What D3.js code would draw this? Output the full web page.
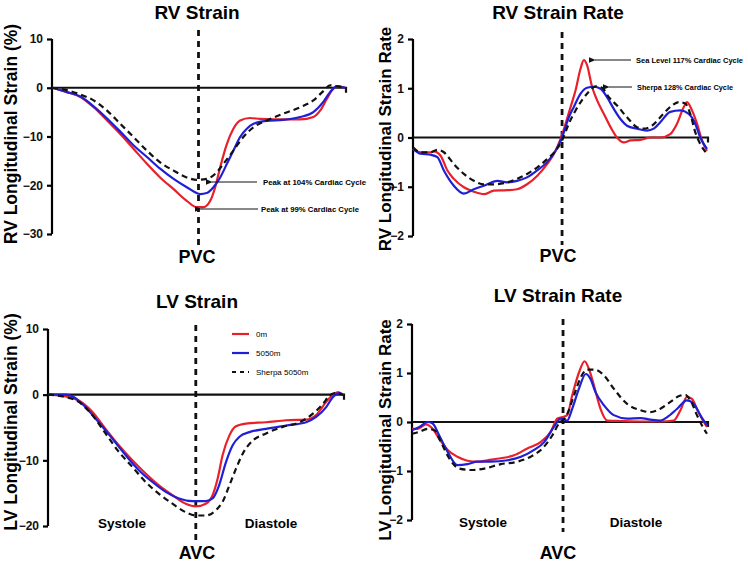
<!DOCTYPE html>
<html><head><meta charset="utf-8">
<script src="https://cdn.jsdelivr.net/npm/d3@7"></script>
<style>
html,body{margin:0;padding:0;background:#fff;}
svg{display:block;font-family:"Liberation Sans",Arial,sans-serif;}
</style></head>
<body><svg id="c" width="748" height="564"></svg>
<script>
// ---------- DATA ([cardiac cycle %, value]) ----------
const seriesNames = ["0m", "5050m", "Sherpa 5050m"];

const rvStrain0m = [[0,0],[5.1,-0.9],[9.7,-1.9],[14.2,-4],[18.8,-6.7],[23.3,-9.5],[27.8,-12.5],[32.4,-15.6],[36.9,-18.4],[41.5,-20.8],[46,-23.2],[49.4,-24.5],[51.7,-24.5],[54,-23.2],[55.7,-20.4],[57.4,-16.3],[59.7,-11.5],[61.9,-8.4],[64.2,-6.7],[67.6,-6.2],[71,-6.4],[75.6,-6.5],[80.1,-6.5],[84.7,-6.5],[89.2,-6.0],[91.5,-4.7],[93.8,-2.3],[96,-0.2],[97.7,0.3],[100,0]];
const rvStrain5050 = [[0,0],[5.1,-0.9],[9.7,-1.8],[14.2,-3.8],[18.8,-6.3],[23.3,-9.0],[27.8,-11.8],[32.4,-14.2],[36.9,-16.6],[41.5,-18.7],[46,-20.4],[50.6,-21.8],[52.8,-21.6],[55.1,-20.4],[57.4,-18.4],[59.7,-15.6],[61.9,-12.9],[64.2,-10.1],[66.5,-8.4],[68.8,-7.4],[73.3,-6.8],[79,-6.6],[84.7,-6.0],[89.2,-5.0],[92.6,-2.9],[94.9,-0.9],[97.2,0.3],[100,0]];
const rvStrainSherpa = [[0,0],[5.1,-0.5],[9.7,-1.4],[14.2,-2.6],[18.8,-4.7],[23.3,-7.4],[27.8,-10.1],[32.4,-12.9],[36.9,-15.3],[41.5,-17.0],[46,-18.4],[49.4,-18.9],[52.8,-18.7],[56.3,-17.3],[58.5,-15.6],[61.9,-12.9],[65.3,-10.1],[68.8,-8.1],[73.3,-6.7],[79,-5.3],[84.7,-4.0],[89.2,-2.6],[92.6,-0.7],[94.9,0.5],[97.2,0.3],[100,0]];

const rvRate0m = [[0,-0.23],[2.6,-0.3],[6,-0.3],[7.1,-0.28],[9.4,-0.37],[11.7,-0.67],[13.9,-0.84],[17.3,-1.01],[20.7,-1.1],[24.1,-1.15],[27.5,-1.08],[32,-1.07],[35.4,-1.05],[38.8,-0.95],[42.2,-0.78],[45.6,-0.54],[48.5,-0.27],[50.2,-0.03],[51.9,0.28],[53.6,0.62],[55.3,0.96],[57,1.4],[58.1,1.57],[59.2,1.47],[60.9,1.03],[62.6,0.76],[64.9,0.48],[67.2,0.21],[69.4,0],[71.7,-0.1],[74,-0.06],[77.4,-0.05],[80.7,0],[84.1,0],[87.5,0.07],[89.8,0.28],[92.1,0.62],[93.2,0.72],[94.9,0.55],[96.6,0.28],[98.3,-0.06],[100,-0.27]];
const rvRate5050 = [[0,-0.23],[2.6,-0.33],[6,-0.35],[8.3,-0.4],[10.5,-0.67],[13.9,-0.98],[17.3,-1.14],[20.7,-1.05],[24.1,-0.98],[28.7,-0.88],[32,-0.91],[35.4,-0.88],[38.8,-0.81],[42.2,-0.67],[45.6,-0.5],[48.5,-0.27],[50.7,0],[53,0.41],[54.7,0.62],[57,0.89],[59.2,1.01],[61.5,1.03],[63.8,0.99],[66,0.82],[68.3,0.58],[70.5,0.38],[72.8,0.24],[76.2,0.18],[79.6,0.14],[81.9,0.18],[84.1,0.31],[87.5,0.52],[90.9,0.55],[93.8,0.48],[96,0.28],[97.7,0],[100,-0.23]];
const rvRateSherpa = [[0,-0.2],[2.6,-0.3],[6,-0.3],[8.3,-0.25],[10.5,-0.3],[13.9,-0.54],[17.3,-0.74],[20.7,-0.88],[24.1,-0.95],[27.5,-0.95],[32,-0.91],[35.4,-0.84],[38.8,-0.74],[42.2,-0.61],[45.6,-0.44],[48.5,-0.27],[50.7,-0.06],[53,0.28],[55.3,0.55],[57.5,0.76],[59.8,0.93],[62.1,1.04],[64.3,1.01],[66.6,0.82],[69.4,0.65],[72.8,0.41],[76.2,0.21],[78.5,0.18],[81.3,0.24],[84.7,0.45],[88.1,0.65],[90.4,0.72],[92.6,0.69],[94.3,0.48],[96,0.11],[97.7,-0.13],[100,-0.33]];

const lvStrain0m = [[0,0],[5.9,-0.25],[10.4,-0.9],[15,-2.6],[19.5,-5.2],[24,-7.7],[28.6,-10],[33.1,-12],[37.6,-13.8],[42.2,-15.3],[46.7,-16.6],[50.1,-17],[53.5,-16.6],[55.8,-15.3],[57.5,-12.8],[59.2,-9.2],[61.5,-6.2],[63.7,-4.8],[67.1,-4.4],[73.9,-4.2],[80.7,-3.9],[87.5,-3.8],[90.9,-3.1],[94.3,-1.1],[96.6,0],[98.3,0.4],[100,0]];
const lvStrain5050 = [[0,0],[5.9,0],[8.7,-0.35],[12.7,-1.9],[17.2,-4.2],[21.8,-6.7],[26.3,-9.2],[30.8,-11.5],[35.4,-13.3],[39.9,-14.8],[44.4,-15.8],[49,-16.2],[53.5,-16.2],[55.8,-15.8],[58,-13.8],[60.3,-10.3],[62.6,-7.7],[64.9,-6.4],[68.3,-5.7],[73.9,-5.2],[80.7,-4.7],[87.5,-4.2],[90.9,-3.4],[94.3,-1.9],[96.6,-0.35],[98.9,0.25],[100,-0.1]];
const lvStrainSherpa = [[0,0],[5.9,-0.35],[10.4,-1.1],[15,-3.1],[19.5,-5.9],[24,-8.7],[28.6,-11],[33.1,-13.3],[37.6,-15.1],[42.2,-16.6],[46.7,-17.9],[50.1,-18.4],[53.5,-18.4],[56.9,-17.6],[59.2,-16.3],[61.5,-13.8],[63.7,-11.3],[66,-9],[69.4,-7],[73.9,-5.9],[79.6,-4.9],[85.3,-4.2],[89.8,-2.9],[93.2,-1.4],[95.5,-0.1],[97.2,0.25],[100,0]];

const lvRate0m = [[0,-0.14],[1.9,-0.14],[4.7,-0.05],[7,-0.14],[9.2,-0.34],[12.1,-0.57],[15.4,-0.71],[18.8,-0.79],[22.2,-0.81],[25.6,-0.78],[30.1,-0.74],[34.6,-0.68],[39.1,-0.54],[43.6,-0.41],[47,-0.2],[49.3,0.07],[51,0.1],[52.6,0.14],[54.3,0.54],[56.6,1.01],[58.5,1.24],[60,1.08],[61.7,0.74],[63.9,0.27],[66.2,0.03],[70.7,0.02],[77.5,0.01],[84.2,0.01],[88.7,0.03],[91,0.24],[93.2,0.51],[94.9,0.47],[96.6,0.27],[98.9,0],[100,-0.1]];
const lvRate5050 = [[0,-0.17],[2.5,-0.1],[5.3,0],[7,-0.03],[9.2,-0.27],[12.1,-0.61],[15.4,-0.88],[18.8,-0.86],[22.2,-0.81],[26.7,-0.81],[32.4,-0.78],[36.9,-0.71],[41.4,-0.57],[44.8,-0.41],[48.1,-0.1],[50.4,0.07],[52.6,0.03],[54.3,0.27],[56.6,0.68],[58.9,0.98],[60.5,0.88],[62.2,0.61],[65.1,0.34],[68.4,0.14],[72.9,0.07],[77.5,0.08],[80.8,0.05],[84.2,0.03],[86.5,0.1],[89.9,0.27],[93.2,0.44],[95.5,0.37],[97.7,0.14],[100,-0.07]];
const lvRateSherpa = [[0,-0.24],[2.5,-0.2],[5.3,-0.14],[7.6,-0.17],[9.8,-0.41],[12.6,-0.74],[16,-0.95],[20,-0.98],[24.5,-0.95],[30.1,-0.86],[35.7,-0.81],[40.2,-0.71],[44.2,-0.54],[47.6,-0.27],[49.8,-0.03],[52.1,0.1],[54.9,0.54],[57.2,0.91],[59.4,1.07],[61.7,1.07],[65.1,0.95],[68.4,0.68],[72.9,0.37],[77.5,0.24],[80.8,0.2],[84.2,0.27],[87.6,0.41],[91,0.54],[92.7,0.55],[94.4,0.44],[96.6,0.14],[98.3,-0.07],[100,-0.24]];

const strainTicksRV = [10, 0, -10, -20, -30];
const strainTicksLV = [10, 0, -10, -20];
const rateTicks = [2, 1, 0, -1, -2];
const valveEvent = [50.0, 50.7, 50.1, 51.2]; // % cycle of PVC / AVC marker per panel

const rvAnnotations = ["Peak at 104% Cardiac Cycle", "Peak at 99% Cardiac Cycle"];
const rvRateAnnotations = ["Sea Level 117% Cardiac Cycle", "Sherpa 128% Cardiac Cycle"];

// ---------- DRAW ----------
const svg = d3.select("#c");
const colors = ["#e8202a", "#1f1fd6", "#111"];
const dashes = [null, null, "6,4"];

svg.append("defs").append("marker").attr("id","arr").attr("viewBox","0 0 10 10")
  .attr("refX",1).attr("refY",5).attr("markerWidth",7).attr("markerHeight",7)
  .attr("orient","auto-start-reverse")
  .append("path").attr("d","M10,1 L0,5 L10,9 Z").attr("fill","#111");

function panel(o){
  const x = d3.scaleLinear().domain([0,100]).range([o.x0,o.x1]);
  const y = d3.scaleLinear().domain(o.yDom).range([o.y1,o.y0]);
  const g = svg.append("g");
  g.append("text").attr("x",o.tx).attr("y",o.ty).attr("text-anchor","middle")
    .attr("font-size",19).attr("font-weight","bold").text(o.title);
  const ax = g.append("g").attr("transform",`translate(${o.x0},0)`)
    .call(d3.axisLeft(y).tickValues(o.ticks).tickSize(5).tickPadding(4).tickFormat(d3.format("d")));
  ax.select(".domain").attr("stroke-width",2.2).attr("d",`M0,${y(o.yDom[1])}V${y(o.yDom[0])}`);
  ax.selectAll(".tick line").attr("stroke-width",2.2);
  ax.selectAll(".tick text").attr("font-size",12).attr("font-weight","bold")
    .attr("font-family","Liberation Sans, Arial, sans-serif").attr("fill","#111");
  g.append("text").attr("transform",`translate(${o.lx},${o.ly}) rotate(-90)`)
    .attr("text-anchor","middle").attr("font-size",o.lfs).attr("font-weight","bold").text(o.ylabel);
  g.append("path").attr("d",`M${o.x0},${y(0)}H${x(100)+1}V${y(0)+5}`)
    .attr("fill","none").attr("stroke","#111").attr("stroke-width",2.2);
  g.append("line").attr("x1",x(o.ev)).attr("x2",x(o.ev)).attr("y1",o.vy0).attr("y2",o.vy1)
    .attr("stroke","#111").attr("stroke-width",2.8).attr("stroke-dasharray","6,5");
  g.append("text").attr("x",o.evx).attr("y",o.evy).attr("text-anchor","middle")
    .attr("font-size",18).attr("font-weight","bold").text(o.evLabel);
  const line = d3.line().x(d=>x(d[0])).y(d=>y(d[1])).curve(d3.curveMonotoneX);
  o.series.forEach((s,i)=>{
    g.append("path").datum(s).attr("d",line).attr("fill","none")
      .attr("stroke",colors[i]).attr("stroke-width",2.2)
      .attr("stroke-dasharray",dashes[i]);
  });
  return {g,x,y};
}

const p1 = panel({title:"RV Strain",tx:197,ty:19,x0:52,x1:345,y0:39,y1:234,yDom:[-30,10],ticks:strainTicksRV,
  ylabel:"RV Longitudinal Strain (%)",lfs:17.5,lx:17,ly:134,ev:valveEvent[0],vy0:30,vy1:247,evLabel:"PVC",evx:197,evy:263,
  series:[rvStrain0m,rvStrain5050,rvStrainSherpa]});
const p2 = panel({title:"RV Strain Rate",tx:558,ty:19,x0:413,x1:707,y0:39,y1:236,yDom:[-2,2],ticks:rateTicks,
  ylabel:"RV Longitudinal Strain Rate",lfs:17,lx:391,ly:139,ev:valveEvent[1],vy0:32,vy1:245,evLabel:"PVC",evx:558,evy:262,
  series:[rvRate0m,rvRate5050,rvRateSherpa]});
const p3 = panel({title:"LV Strain",tx:197,ty:308,x0:48,x1:343,y0:329,y1:526,yDom:[-20,10],ticks:strainTicksLV,
  ylabel:"LV Longitudinal Strain (%)",lfs:17.5,lx:17,ly:422,ev:valveEvent[2],vy0:325,vy1:540,evLabel:"AVC",evx:197,evy:559,
  series:[lvStrain0m,lvStrain5050,lvStrainSherpa]});
const p4 = panel({title:"LV Strain Rate",tx:558,ty:302,x0:412,x1:707,y0:324,y1:520,yDom:[-2,2],ticks:rateTicks,
  ylabel:"LV Longitudinal Strain Rate",lfs:17,lx:391,ly:430,ev:valveEvent[3],vy0:319,vy1:532,evLabel:"AVC",evx:558,evy:559,
  series:[lvRate0m,lvRate5050,lvRateSherpa]});

[[p3,122,271,528],[p4,483,636,527]].forEach(([p,sx,dx,yy])=>{
  p.g.append("text").attr("x",sx).attr("y",yy).attr("text-anchor","middle").attr("font-size",13.5).attr("font-weight","bold").text("Systole");
  p.g.append("text").attr("x",dx).attr("y",yy).attr("text-anchor","middle").attr("font-size",13.5).attr("font-weight","bold").text("Diastole");
});

const lg = svg.append("g");
seriesNames.forEach((n,i)=>{
  const yy = 334 + i*19;
  lg.append("line").attr("x1",232).attr("x2",249).attr("y1",yy).attr("y2",yy)
    .attr("stroke",colors[i]).attr("stroke-width",2.2).attr("stroke-dasharray",i===2?"4,4":null);
  lg.append("text").attr("x",256).attr("y",yy+3).attr("font-size",8).text(n);
});

function annot(g, tx, ty, ax0, ax1, label, w){
  g.append("line").attr("x1",ax0).attr("x2",ax1+2).attr("y1",ty).attr("y2",ty)
    .attr("stroke","#111").attr("stroke-width",1).attr("marker-end","url(#arr)");
  g.append("text").attr("x",tx).attr("y",ty+3).attr("font-size",7.6).attr("font-weight","bold")
    .attr("textLength",w).attr("lengthAdjust","spacingAndGlyphs").text(label);
}
annot(p1.g, 263, 182, 257, 210, rvAnnotations[0], 103);
annot(p1.g, 261, 209, 258, 199, rvAnnotations[1], 98);
annot(p2.g, 636, 60, 631, 593, rvRateAnnotations[0], 107);
annot(p2.g, 637, 87, 632, 607, rvRateAnnotations[1], 96);
</script></body></html>
